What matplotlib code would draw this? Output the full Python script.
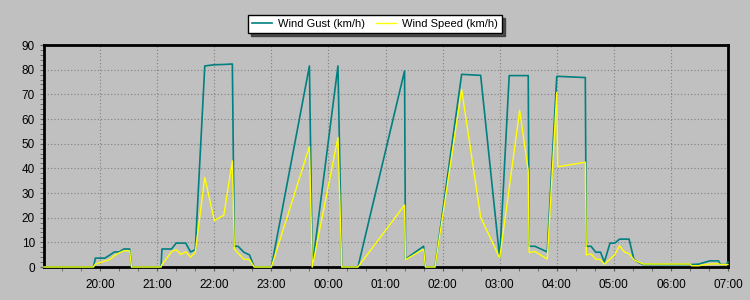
import matplotlib
matplotlib.use('Agg')
import matplotlib.pyplot as plt
import matplotlib.dates as mdates
from matplotlib.ticker import MultipleLocator
from datetime import datetime, timedelta

# readings (time of day, km/h) -- night run, times after midnight are next day
times = ['19:01', '19:53', '19:55', '20:00', '20:05', '20:10', '20:15', '20:20', '20:25', '20:31',
         '20:33', '21:04', '21:05', '21:10', '21:15', '21:20', '21:25', '21:30', '21:35', '21:40',
         '21:50', '22:00', '22:10', '22:19', '22:21', '22:25', '22:31', '22:37', '22:42', '23:00',
         '23:40', '23:43', '00:10', '00:14', '00:31', '01:20', '01:21', '01:40', '01:42', '01:52',
         '02:20', '02:40', '03:00', '03:10', '03:21', '03:30', '03:31', '03:37', '03:50', '04:00',
         '04:01', '04:30', '04:31', '04:36', '04:41', '04:46', '04:50', '04:56', '05:01', '05:06',
         '05:11', '05:16', '05:21', '05:26', '05:31', '06:20', '06:22', '06:30', '06:32', '06:41',
         '06:50', '06:52', '06:58', '07:00']
gust = [0, 0, 3.6, 3.6, 3.6, 4.8, 6.1, 6.1, 7.3, 7.3,
        0, 0, 7.3, 7.3, 7.3, 9.7, 9.7, 9.7, 6.1, 7.0,
        81.5, 82.0, 82.1, 82.3, 8.4, 8.4, 6.0, 4.9, 0, 0,
        81.5, 0, 81.5, 0, 0, 79.5, 3.2, 8.4, 0, 0,
        78.1, 77.7, 3.6, 77.6, 77.6, 77.6, 8.4, 8.4, 6.1, 77.2,
        77.3, 76.8, 8.4, 8.4, 6.0, 6.0, 2.0, 9.7, 9.7, 11.3,
        11.3, 11.3, 3.2, 1.8, 1.0, 1.0, 1.0, 1.2, 1.5, 2.5,
        2.5, 1.0, 1.0, 2.0]
speed = [0, 0, 1.2, 1.8, 2.4, 3.0, 4.6, 5.7, 6.6, 6.6,
         0, 0, 1.0, 3.5, 6.2, 7.0, 5.1, 6.2, 4.0, 5.9,
         36.3, 18.8, 21.0, 43.0, 7.4, 5.6, 3.2, 3.0, 0, 0,
         48.8, 0, 52.5, 0, 0, 25.1, 3.0, 7.2, 0, 0,
         72.0, 20.2, 3.6, 32.0, 63.5, 39.0, 5.9, 6.3, 3.2, 70.7,
         40.6, 42.5, 4.9, 5.3, 3.2, 3.0, 1.2, 3.2, 5.0, 8.6,
         6.1, 5.4, 3.0, 2.0, 1.2, 1.2, 0.5, 0.5, 0.8, 1.2,
         1.3, 1.0, 1.0, 1.0]


def to_dt(s):
    h, m = map(int, s.split(':'))
    d = datetime(2020, 1, 1, h, m)
    if h < 12:
        d += timedelta(days=1)
    return d


x = [to_dt(t) for t in times]

plt.rcParams['font.family'] = ['Liberation Sans', 'DejaVu Sans']
bg = '#c0c0c0'

fig = plt.figure(figsize=(7.5, 3), dpi=100, facecolor=bg)
ax = fig.add_axes([44 / 750, 33 / 300, 684 / 750, 222 / 300])
ax.set_facecolor(bg)

ax.plot(x, gust, color='#008080', lw=1.2, label='Wind Gust (km/h)', clip_on=False, zorder=3)
ax.plot(x, speed, color='#ffff00', lw=1.0, label='Wind Speed (km/h)', clip_on=False, zorder=4)

ax.set_ylim(0, 90)
ax.set_xlim(to_dt('19:01'), to_dt('07:00'))
ax.yaxis.set_major_locator(MultipleLocator(10))
ax.yaxis.set_minor_locator(MultipleLocator(2))
ax.xaxis.set_major_locator(mdates.HourLocator())
ax.xaxis.set_minor_locator(mdates.MinuteLocator(byminute=[0, 20, 40]))
ax.xaxis.set_major_formatter(mdates.DateFormatter('%H:%M'))

ax.grid(True, which='major', color='#808080', linestyle=(0, (1, 2)), lw=0.8)
ax.set_axisbelow(True)

ax.tick_params(which='both', direction='out', length=3, color='#606060', labelsize=8.5,
               labelcolor='black')
ax.tick_params(axis='x', pad=6)

for side in ['left', 'bottom', 'top', 'right']:
    ax.spines[side].set_linewidth(2)

fig.legend(loc='center', bbox_to_anchor=(375 / 750, 1 - 24 / 300), ncol=2,
           frameon=True, fancybox=False, shadow={'color': '#303030', 'alpha': 0.8},
           edgecolor='black', facecolor='white',
           framealpha=1, fontsize=8, handlelength=1.8, columnspacing=1.0,
           borderpad=0.38, handletextpad=0.5, borderaxespad=0)

fig.savefig('out.png', dpi=100, facecolor=bg)
